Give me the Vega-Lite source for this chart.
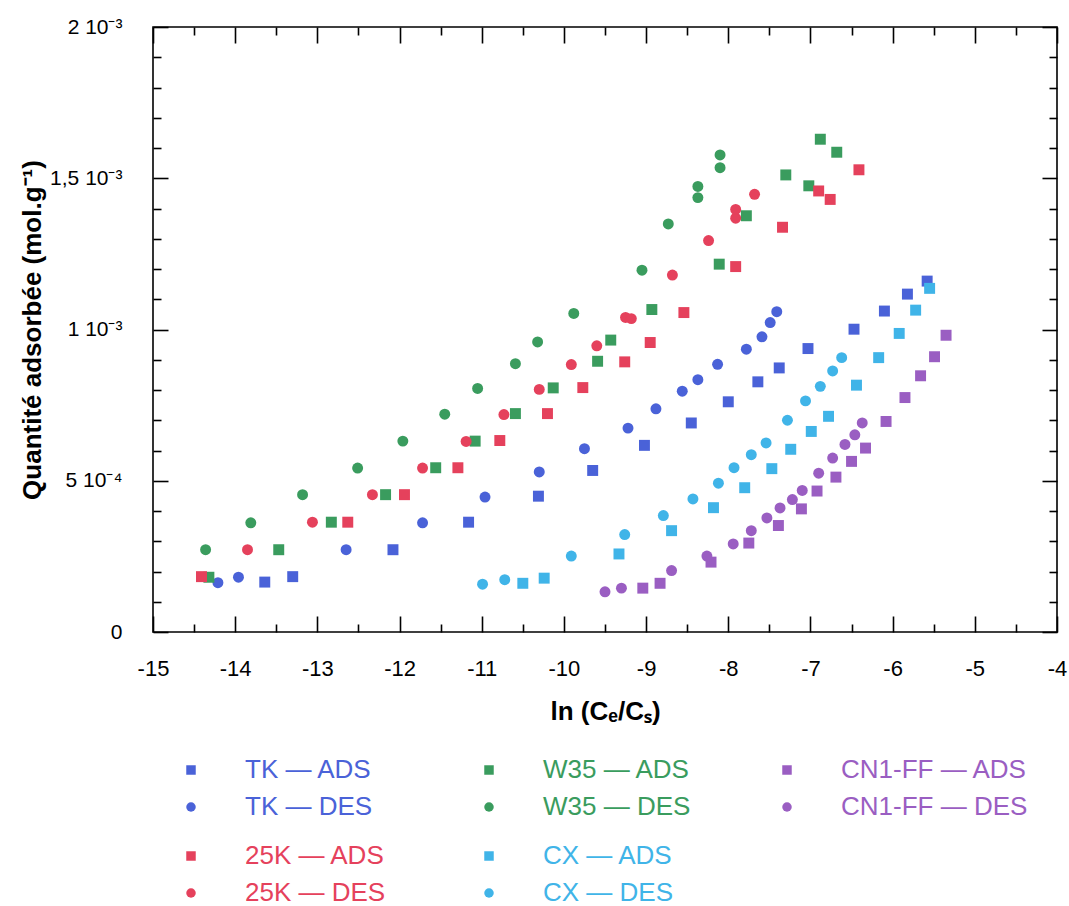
{
  "$schema": "https://vega.github.io/schema/vega-lite/v6.json",
  "width": 904,
  "height": 605,
  "autosize": "none",
  "padding": {"left": 153, "top": 27, "right": 12, "bottom": 274},
  "background": "white",
  "config": {
    "view": {"stroke": "black", "strokeWidth": 1.6},
    "font": "Liberation Sans",
    "legend": {
      "orient": "none",
      "padding": 0,
      "labelFont": "Liberation Sans",
      "labelFontSize": 26,
      "labelOffset": 41,
      "symbolSize": 90,
      "symbolStrokeWidth": 0,
      "symbolOpacity": 1,
      "rowPadding": 11,
      "gridAlign": "all",
      "labelLimit": 400
    }
  },
  "datasets": {
    "pts": [
      {"s": "TK — ADS", "x": -13.64, "q": 0.000165},
      {"s": "TK — ADS", "x": -13.30, "q": 0.000183},
      {"s": "TK — ADS", "x": -12.08, "q": 0.000272},
      {"s": "TK — ADS", "x": -11.16, "q": 0.000363},
      {"s": "TK — ADS", "x": -10.31, "q": 0.000449},
      {"s": "TK — ADS", "x": -9.65, "q": 0.000534},
      {"s": "TK — ADS", "x": -9.02, "q": 0.000617},
      {"s": "TK — ADS", "x": -8.45, "q": 0.000691},
      {"s": "TK — ADS", "x": -8.00, "q": 0.000761},
      {"s": "TK — ADS", "x": -7.64, "q": 0.000827},
      {"s": "TK — ADS", "x": -7.38, "q": 0.000873},
      {"s": "TK — ADS", "x": -7.03, "q": 0.000937},
      {"s": "TK — ADS", "x": -6.47, "q": 0.001001},
      {"s": "TK — ADS", "x": -6.10, "q": 0.001061},
      {"s": "TK — ADS", "x": -5.82, "q": 0.001117},
      {"s": "TK — ADS", "x": -5.58, "q": 0.001160},
      {"s": "TK — DES", "x": -14.21, "q": 0.000163},
      {"s": "TK — DES", "x": -13.96, "q": 0.000181},
      {"s": "TK — DES", "x": -12.65, "q": 0.000272},
      {"s": "TK — DES", "x": -11.72, "q": 0.000361},
      {"s": "TK — DES", "x": -10.96, "q": 0.000446},
      {"s": "TK — DES", "x": -10.30, "q": 0.000529},
      {"s": "TK — DES", "x": -9.75, "q": 0.000606},
      {"s": "TK — DES", "x": -9.22, "q": 0.000674},
      {"s": "TK — DES", "x": -8.88, "q": 0.000738},
      {"s": "TK — DES", "x": -8.56, "q": 0.000796},
      {"s": "TK — DES", "x": -8.37, "q": 0.000834},
      {"s": "TK — DES", "x": -8.13, "q": 0.000885},
      {"s": "TK — DES", "x": -7.78, "q": 0.000935},
      {"s": "TK — DES", "x": -7.59, "q": 0.000976},
      {"s": "TK — DES", "x": -7.49, "q": 0.001023},
      {"s": "TK — DES", "x": -7.41, "q": 0.001059},
      {"s": "W35 — ADS", "x": -14.32, "q": 0.000181},
      {"s": "W35 — ADS", "x": -13.47, "q": 0.000272},
      {"s": "W35 — ADS", "x": -12.83, "q": 0.000363},
      {"s": "W35 — ADS", "x": -12.17, "q": 0.000454},
      {"s": "W35 — ADS", "x": -11.56, "q": 0.000543},
      {"s": "W35 — ADS", "x": -11.08, "q": 0.000631},
      {"s": "W35 — ADS", "x": -10.59, "q": 0.000722},
      {"s": "W35 — ADS", "x": -10.13, "q": 0.000807},
      {"s": "W35 — ADS", "x": -9.59, "q": 0.000895},
      {"s": "W35 — ADS", "x": -9.43, "q": 0.000965},
      {"s": "W35 — ADS", "x": -8.93, "q": 0.001066},
      {"s": "W35 — ADS", "x": -8.11, "q": 0.001216},
      {"s": "W35 — ADS", "x": -7.78, "q": 0.001376},
      {"s": "W35 — ADS", "x": -7.30, "q": 0.001511},
      {"s": "W35 — ADS", "x": -7.02, "q": 0.001475},
      {"s": "W35 — ADS", "x": -6.88, "q": 0.001629},
      {"s": "W35 — ADS", "x": -6.68, "q": 0.001586},
      {"s": "W35 — DES", "x": -14.36, "q": 0.000272},
      {"s": "W35 — DES", "x": -13.81, "q": 0.000361},
      {"s": "W35 — DES", "x": -13.18, "q": 0.000454},
      {"s": "W35 — DES", "x": -12.51, "q": 0.000542},
      {"s": "W35 — DES", "x": -11.96, "q": 0.000631},
      {"s": "W35 — DES", "x": -11.45, "q": 0.000720},
      {"s": "W35 — DES", "x": -11.05, "q": 0.000805},
      {"s": "W35 — DES", "x": -10.59, "q": 0.000887},
      {"s": "W35 — DES", "x": -10.32, "q": 0.000959},
      {"s": "W35 — DES", "x": -9.88, "q": 0.001053},
      {"s": "W35 — DES", "x": -9.05, "q": 0.001196},
      {"s": "W35 — DES", "x": -8.73, "q": 0.001349},
      {"s": "W35 — DES", "x": -8.37, "q": 0.001436},
      {"s": "W35 — DES", "x": -8.37, "q": 0.001473},
      {"s": "W35 — DES", "x": -8.10, "q": 0.001535},
      {"s": "W35 — DES", "x": -8.10, "q": 0.001577},
      {"s": "CN1-FF — ADS", "x": -9.04, "q": 0.000145},
      {"s": "CN1-FF — ADS", "x": -8.83, "q": 0.000161},
      {"s": "CN1-FF — ADS", "x": -8.21, "q": 0.000231},
      {"s": "CN1-FF — ADS", "x": -7.75, "q": 0.000294},
      {"s": "CN1-FF — ADS", "x": -7.39, "q": 0.000352},
      {"s": "CN1-FF — ADS", "x": -7.11, "q": 0.000407},
      {"s": "CN1-FF — ADS", "x": -6.92, "q": 0.000466},
      {"s": "CN1-FF — ADS", "x": -6.69, "q": 0.000512},
      {"s": "CN1-FF — ADS", "x": -6.50, "q": 0.000564},
      {"s": "CN1-FF — ADS", "x": -6.33, "q": 0.000608},
      {"s": "CN1-FF — ADS", "x": -6.08, "q": 0.000696},
      {"s": "CN1-FF — ADS", "x": -5.85, "q": 0.000775},
      {"s": "CN1-FF — ADS", "x": -5.66, "q": 0.000847},
      {"s": "CN1-FF — ADS", "x": -5.49, "q": 0.000910},
      {"s": "CN1-FF — ADS", "x": -5.35, "q": 0.000981},
      {"s": "CN1-FF — DES", "x": -9.50, "q": 0.000133},
      {"s": "CN1-FF — DES", "x": -9.30, "q": 0.000145},
      {"s": "CN1-FF — DES", "x": -8.69, "q": 0.000203},
      {"s": "CN1-FF — DES", "x": -8.26, "q": 0.000251},
      {"s": "CN1-FF — DES", "x": -7.94, "q": 0.000291},
      {"s": "CN1-FF — DES", "x": -7.72, "q": 0.000335},
      {"s": "CN1-FF — DES", "x": -7.53, "q": 0.000377},
      {"s": "CN1-FF — DES", "x": -7.37, "q": 0.000410},
      {"s": "CN1-FF — DES", "x": -7.22, "q": 0.000438},
      {"s": "CN1-FF — DES", "x": -7.10, "q": 0.000468},
      {"s": "CN1-FF — DES", "x": -6.90, "q": 0.000525},
      {"s": "CN1-FF — DES", "x": -6.73, "q": 0.000575},
      {"s": "CN1-FF — DES", "x": -6.58, "q": 0.000620},
      {"s": "CN1-FF — DES", "x": -6.46, "q": 0.000652},
      {"s": "CN1-FF — DES", "x": -6.37, "q": 0.000691}
    ],
    "pts2": [
      {"s": "25K — ADS", "x": -14.41, "q": 0.000183},
      {"s": "25K — ADS", "x": -12.63, "q": 0.000363},
      {"s": "25K — ADS", "x": -11.94, "q": 0.000454},
      {"s": "25K — ADS", "x": -11.29, "q": 0.000543},
      {"s": "25K — ADS", "x": -10.78, "q": 0.000633},
      {"s": "25K — ADS", "x": -10.20, "q": 0.000722},
      {"s": "25K — ADS", "x": -9.77, "q": 0.000808},
      {"s": "25K — ADS", "x": -9.26, "q": 0.000893},
      {"s": "25K — ADS", "x": -8.95, "q": 0.000957},
      {"s": "25K — ADS", "x": -8.54, "q": 0.001056},
      {"s": "25K — ADS", "x": -7.91, "q": 0.001208},
      {"s": "25K — ADS", "x": -7.34, "q": 0.001338},
      {"s": "25K — ADS", "x": -6.90, "q": 0.001458},
      {"s": "25K — ADS", "x": -6.76, "q": 0.001430},
      {"s": "25K — ADS", "x": -6.41, "q": 0.001528},
      {"s": "25K — DES", "x": -13.85, "q": 0.000272},
      {"s": "25K — DES", "x": -13.06, "q": 0.000363},
      {"s": "25K — DES", "x": -12.33, "q": 0.000454},
      {"s": "25K — DES", "x": -11.72, "q": 0.000542},
      {"s": "25K — DES", "x": -11.19, "q": 0.000630},
      {"s": "25K — DES", "x": -10.73, "q": 0.000719},
      {"s": "25K — DES", "x": -10.30, "q": 0.000802},
      {"s": "25K — DES", "x": -9.91, "q": 0.000884},
      {"s": "25K — DES", "x": -9.60, "q": 0.000946},
      {"s": "25K — DES", "x": -9.25, "q": 0.001040},
      {"s": "25K — DES", "x": -9.18, "q": 0.001036},
      {"s": "25K — DES", "x": -8.68, "q": 0.001180},
      {"s": "25K — DES", "x": -8.24, "q": 0.001294},
      {"s": "25K — DES", "x": -7.91, "q": 0.001368},
      {"s": "25K — DES", "x": -7.91, "q": 0.001397},
      {"s": "25K — DES", "x": -7.68, "q": 0.001447},
      {"s": "CX — ADS", "x": -10.50, "q": 0.000161},
      {"s": "CX — ADS", "x": -10.24, "q": 0.000178},
      {"s": "CX — ADS", "x": -9.33, "q": 0.000258},
      {"s": "CX — ADS", "x": -8.69, "q": 0.000335},
      {"s": "CX — ADS", "x": -8.18, "q": 0.000411},
      {"s": "CX — ADS", "x": -7.80, "q": 0.000477},
      {"s": "CX — ADS", "x": -7.47, "q": 0.000540},
      {"s": "CX — ADS", "x": -7.24, "q": 0.000604},
      {"s": "CX — ADS", "x": -6.99, "q": 0.000663},
      {"s": "CX — ADS", "x": -6.78, "q": 0.000713},
      {"s": "CX — ADS", "x": -6.44, "q": 0.000816},
      {"s": "CX — ADS", "x": -6.17, "q": 0.000907},
      {"s": "CX — ADS", "x": -5.92, "q": 0.000987},
      {"s": "CX — ADS", "x": -5.72, "q": 0.001064},
      {"s": "CX — ADS", "x": -5.55, "q": 0.001136},
      {"s": "CX — DES", "x": -10.99, "q": 0.000158},
      {"s": "CX — DES", "x": -10.72, "q": 0.000173},
      {"s": "CX — DES", "x": -9.91, "q": 0.000251},
      {"s": "CX — DES", "x": -9.26, "q": 0.000322},
      {"s": "CX — DES", "x": -8.79, "q": 0.000385},
      {"s": "CX — DES", "x": -8.43, "q": 0.000440},
      {"s": "CX — DES", "x": -8.12, "q": 0.000492},
      {"s": "CX — DES", "x": -7.93, "q": 0.000543},
      {"s": "CX — DES", "x": -7.72, "q": 0.000586},
      {"s": "CX — DES", "x": -7.54, "q": 0.000625},
      {"s": "CX — DES", "x": -7.28, "q": 0.000700},
      {"s": "CX — DES", "x": -7.06, "q": 0.000764},
      {"s": "CX — DES", "x": -6.88, "q": 0.000812},
      {"s": "CX — DES", "x": -6.73, "q": 0.000863},
      {"s": "CX — DES", "x": -6.62, "q": 0.000907}
    ]
  },
  "layer": [
    {
      "data": {"name": "pts"},
      "mark": {"type": "point", "filled": true, "size": 120, "opacity": 1, "strokeWidth": 0},
      "encoding": {
        "x": {
          "field": "x", "type": "quantitative",
          "scale": {"domain": [-15, -4], "nice": false, "zero": false},
          "axis": {
            "orient": "bottom",
            "title": "ln (Cₑ/Cₛ)",
            "titleFont": "Liberation Sans",
            "titleFontSize": 26,
            "titleFontWeight": "bold",
            "titleColor": "black",
            "titlePadding": 11,
            "values": [-15, -14.5, -14, -13.5, -13, -12.5, -12, -11.5, -11, -10.5, -10, -9.5, -9, -8.5, -8, -7.5, -7, -6.5, -6, -5.5, -5, -4.5, -4],
            "labelExpr": "datum.value % 1 == 0 ? '' + datum.value : ''",
            "labelFont": "Liberation Sans Narrow, Liberation Sans",
            "labelFontSize": 22,
            "labelColor": "black",
            "labelPadding": 42,
            "labelFlush": false,
            "labelOverlap": false,
            "tickSize": {"condition": {"test": "datum.value % 1 == 0", "value": -16}, "value": -8},
            "tickColor": "black",
            "tickWidth": 1.6,
            "domain": false,
            "grid": false
          }
        },
        "y": {
          "field": "q", "type": "quantitative",
          "scale": {"domain": [0, 0.002], "nice": false, "zero": true},
          "axis": {
            "orient": "left",
            "title": "Quantité adsorbée (mol.g⁻¹)",
            "titleFont": "Liberation Sans",
            "titleFontSize": 26,
            "titleFontWeight": "bold",
            "titleColor": "black",
            "titlePadding": 4,
            "values": [0, 0.0001, 0.0002, 0.0003, 0.0004, 0.0005, 0.0006, 0.0007, 0.0008, 0.0009, 0.001, 0.0011, 0.0012, 0.0013, 0.0014, 0.0015, 0.0016, 0.0017, 0.0018, 0.0019, 0.002],
            "labelExpr": "round(datum.value*10000) == 0 ? '0' : round(datum.value*10000) == 5 ? '5 10⁻⁴' : round(datum.value*10000) == 10 ? '1 10⁻³' : round(datum.value*10000) == 15 ? '1,5 10⁻³' : round(datum.value*10000) == 20 ? '2 10⁻³' : ''",
            "labelFont": "Liberation Sans",
            "labelFontSize": 21,
            "labelColor": "black",
            "labelPadding": 46,
            "labelFlush": false,
            "labelOverlap": false,
            "tickSize": {"condition": {"test": "round(datum.value*10000) % 5 == 0", "value": -15}, "value": -8},
            "tickColor": "black",
            "tickWidth": 1.6,
            "domain": false,
            "grid": false
          }
        },
        "color": {
          "field": "s", "type": "nominal",
          "scale": {
            "domain": ["TK — ADS", "TK — DES", "W35 — ADS", "W35 — DES", "CN1-FF — ADS", "CN1-FF — DES"],
            "range": ["#4a62d8", "#4a62d8", "#3a9c5e", "#3a9c5e", "#9a5ec2", "#9a5ec2"]
          },
          "legend": {
            "title": null,
            "columns": 3,
            "columnPadding": 44,
            "legendX": 25,
            "legendY": 730,
            "encode": {"labels": {"update": {"fill": {"signal": "indexof(datum.value,'TK')==0 ? '#4a62d8' : indexof(datum.value,'W35')==0 ? '#3a9c5e' : '#9a5ec2'"}}}}
          }
        },
        "shape": {
          "field": "s", "type": "nominal",
          "scale": {
            "domain": ["TK — ADS", "TK — DES", "W35 — ADS", "W35 — DES", "CN1-FF — ADS", "CN1-FF — DES"],
            "range": ["square", "circle", "square", "circle", "square", "circle"]
          }
        }
      }
    },
    {
      "data": {"name": "pts2"},
      "mark": {"type": "point", "filled": true, "size": 120, "opacity": 1, "strokeWidth": 0},
      "encoding": {
        "x": {
          "field": "x", "type": "quantitative",
          "axis": {
            "orient": "top",
            "title": null,
            "labels": false,
            "values": [-15, -14.5, -14, -13.5, -13, -12.5, -12, -11.5, -11, -10.5, -10, -9.5, -9, -8.5, -8, -7.5, -7, -6.5, -6, -5.5, -5, -4.5, -4],
            "tickSize": {"condition": {"test": "datum.value % 1 == 0", "value": -16}, "value": -8},
            "tickColor": "black",
            "tickWidth": 1.6,
            "domain": false,
            "grid": false
          }
        },
        "y": {
          "field": "q", "type": "quantitative",
          "axis": {
            "orient": "right",
            "title": null,
            "labels": false,
            "values": [0, 0.0001, 0.0002, 0.0003, 0.0004, 0.0005, 0.0006, 0.0007, 0.0008, 0.0009, 0.001, 0.0011, 0.0012, 0.0013, 0.0014, 0.0015, 0.0016, 0.0017, 0.0018, 0.0019, 0.002],
            "tickSize": {"condition": {"test": "round(datum.value*10000) % 5 == 0", "value": -15}, "value": -8},
            "tickColor": "black",
            "tickWidth": 1.6,
            "domain": false,
            "grid": false
          }
        },
        "color": {
          "field": "s", "type": "nominal",
          "scale": {
            "domain": ["25K — ADS", "25K — DES", "CX — ADS", "CX — DES"],
            "range": ["#e5415c", "#e5415c", "#40b4e8", "#40b4e8"]
          },
          "legend": {
            "title": null,
            "columns": 2,
            "columnPadding": 90,
            "legendX": 25,
            "legendY": 816,
            "encode": {"labels": {"update": {"fill": {"signal": "indexof(datum.value,'25K')==0 ? '#e5415c' : '#40b4e8'"}}}}
          }
        },
        "shape": {
          "field": "s", "type": "nominal",
          "scale": {
            "domain": ["25K — ADS", "25K — DES", "CX — ADS", "CX — DES"],
            "range": ["square", "circle", "square", "circle"]
          }
        }
      }
    }
  ],
  "resolve": {
    "scale": {"color": "independent", "shape": "independent"},
    "axis": {"x": "independent", "y": "independent"},
    "legend": {"color": "independent", "shape": "independent"}
  }
}
